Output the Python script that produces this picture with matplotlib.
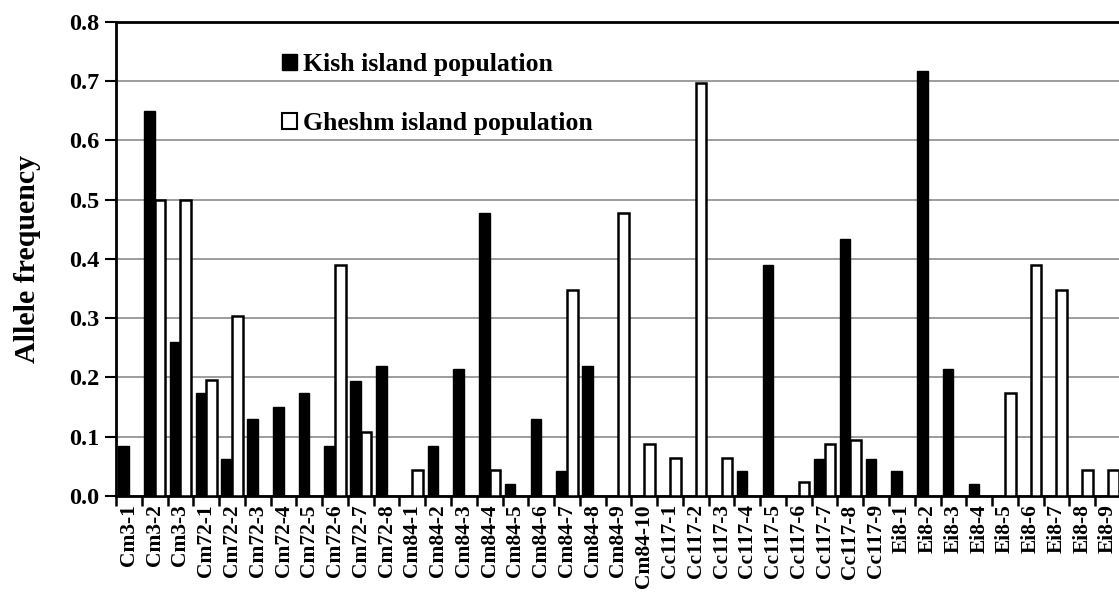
import matplotlib.pyplot as plt
from matplotlib.patches import Patch
import numpy as np

## Allele names and frequencies
alleles = ['Cm3-1', 'Cm3-2', 'Cm3-3',
           'Cm72-1', 'Cm72-2', 'Cm72-3', 'Cm72-4', 'Cm72-5', 'Cm72-6', 'Cm72-7', 'Cm72-8',
           'Cm84-1', 'Cm84-2', 'Cm84-3', 'Cm84-4', 'Cm84-5', 'Cm84-6', 'Cm84-7', 'Cm84-8',
           'Cm84-9', 'Cm84-10',
           'Cc117-1', 'Cc117-2', 'Cc117-3', 'Cc117-4', 'Cc117-5', 'Cc117-6', 'Cc117-7',
           'Cc117-8', 'Cc117-9',
           'Ei8-1', 'Ei8-2', 'Ei8-3', 'Ei8-4', 'Ei8-5', 'Ei8-6', 'Ei8-7', 'Ei8-8', 'Ei8-9']

kish = [0.085, 0.65, 0.26,
        0.173, 0.063, 0.13, 0.15, 0.173, 0.085, 0.194, 0.219,
        0.0, 0.085, 0.215, 0.477, 0.021, 0.13, 0.042, 0.219, 0.0, 0.0,
        0.0, 0.0, 0.0, 0.042, 0.39, 0.0, 0.063, 0.433, 0.063,
        0.042, 0.717, 0.215, 0.021, 0.0, 0.0, 0.0, 0.0, 0.0]

gheshm = [0.0, 0.5, 0.5,
          0.195, 0.303, 0.0, 0.0, 0.0, 0.39, 0.108, 0.0,
          0.043, 0.0, 0.0, 0.043, 0.0, 0.0, 0.347, 0.0, 0.478, 0.087,
          0.064, 0.696, 0.064, 0.0, 0.0, 0.023, 0.087, 0.094, 0.0,
          0.0, 0.0, 0.0, 0.0, 0.174, 0.39, 0.347, 0.043, 0.043]

font = 'Liberation Serif'

fig = plt.figure(figsize=(11.19, 5.94), dpi=100)
ax = fig.add_axes([0.1037, 0.165, 0.898, 0.7985])

x = np.arange(len(alleles))
w = 0.41

# zero-height bars would still draw an edge line, so skip them
kx = [i for i in x if kish[i] > 0]
gx = [i for i in x if gheshm[i] > 0]
ax.bar([i - w / 2 for i in kx], [kish[i] for i in kx], width=w,
       color='black', edgecolor='black', linewidth=1.0, zorder=3)
ax.bar([i + w / 2 for i in gx], [gheshm[i] for i in gx], width=w,
       color='white', edgecolor='black', linewidth=1.8, zorder=3)

ax.set_xlim(-0.5, len(alleles) - 0.5)
ax.set_ylim(0, 0.8)

ax.set_yticks(np.arange(0, 0.81, 0.1))
ax.set_yticklabels(['%.1f' % v for v in np.arange(0, 0.81, 0.1)],
                   fontfamily=font, fontweight='bold', fontsize=17.5)
ax.yaxis.grid(True, color='#8c8c8c', linewidth=1.2, zorder=0)
ax.set_axisbelow(True)

# labels at bar centres, tick marks at category boundaries
ax.set_xticks(x)
ax.set_xticklabels(alleles, rotation=90, fontfamily=font, fontweight='bold', fontsize=15.5)
ax.set_xticks(np.arange(-0.5, len(alleles)), minor=True)
ax.tick_params(axis='x', which='major', length=0, pad=6)
ax.tick_params(axis='x', which='minor', length=7, width=1.8, direction='out')
ax.tick_params(axis='y', length=8, width=1.5, direction='out', pad=4)

for s in ['left', 'top', 'bottom']:
    ax.spines[s].set_linewidth(2.0)
ax.spines['right'].set_visible(False)

ax.set_ylabel('Allele frequency', fontfamily=font, fontweight='bold', fontsize=21.5, labelpad=20)

handles = [Patch(facecolor='black', edgecolor='black'),
           Patch(facecolor='white', edgecolor='black', linewidth=1.5)]
leg = fig.legend(handles, ['Kish island population', 'Gheshm island population'],
                 loc='upper left', bbox_to_anchor=(0.231, 0.95), frameon=False,
                 handlelength=0.6, handleheight=0.6, handletextpad=0.25, labelspacing=1.4,
                 prop={'family': font, 'weight': 'bold', 'size': 18.5})

fig.savefig('out.png', dpi=100)
